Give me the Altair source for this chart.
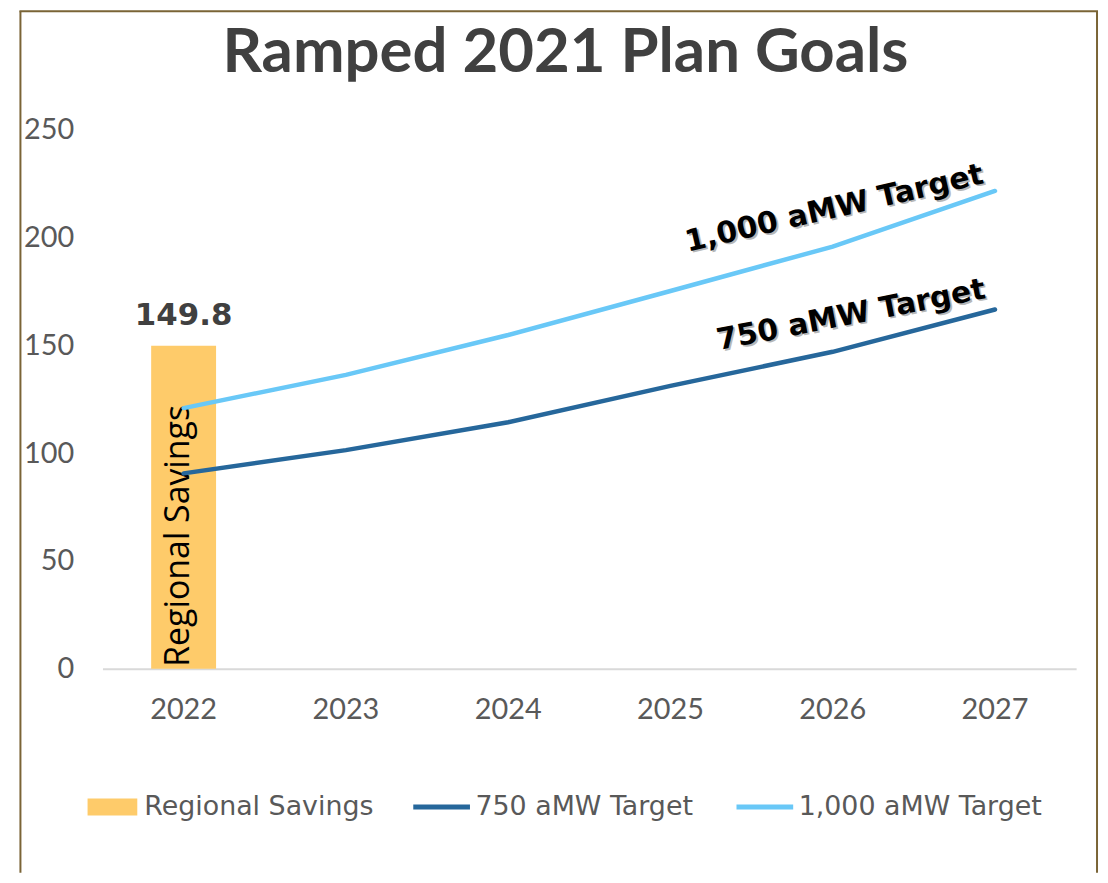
import altair as alt
import pandas as pd

# ---- data ----
years = ["2022", "2023", "2024", "2025", "2026", "2027"]
savings_years = ["2022"]
savings_values = [149.8]
target_750 = [90.6, 101.4, 114.3, 131.2, 147.0, 166.6]
target_1000 = [120.9, 136.3, 154.8, 175.2, 195.8, 221.6]
series_names = ["Regional Savings", "750 aMW Target", "1,000 aMW Target"]
y_ticks = [0, 50, 100, 150, 200, 250]

# ---- layout / style ----
W, H = 979, 542
PAD = {"left": 95, "top": 120, "right": 24, "bottom": 205}
BAR_COLOR = "#FECB6A"
DARK = "#26679B"
LIGHT = "#69C8F7"
FRAME = "#7A6436"
GREY = "#595959"

bar_df = pd.DataFrame({"year": savings_years, "value": savings_values,
                       "series": [series_names[0]] * len(savings_years),
                       "zero": [0] * len(savings_years)})
line_df = pd.DataFrame({
    "year": years + years,
    "value": target_750 + target_1000,
    "series": [series_names[1]] * len(years) + [series_names[2]] * len(years),
})
lab750 = pd.DataFrame({"year": [years[-1]], "value": [target_750[-1]], "label": [series_names[1]]})
lab1000 = pd.DataFrame({"year": [years[-1]], "value": [target_1000[-1]], "label": [series_names[2]]})

x_enc = alt.X("year:N",
              scale=alt.Scale(domain=years, paddingInner=0.6, paddingOuter=0.3),
              axis=alt.Axis(title=None, labelAngle=0, labelFont="Lato", labelFontSize=29,
                            labelColor=GREY, labelPadding=27, ticks=False,
                            domainColor="#D9D9D9", domainWidth=2))


def y_enc(field="value"):
    return alt.Y(f"{field}:Q",
                 scale=alt.Scale(domain=[0, 250], nice=False),
                 axis=alt.Axis(title=None, values=y_ticks, grid=False, domain=False,
                               ticks=False, labelFont="Lato", labelFontSize=29,
                               labelColor=GREY, labelPadding=29))


bars = alt.Chart(bar_df).mark_bar().encode(
    x=x_enc, y=y_enc(),
    fill=alt.Fill("series:N",
                  scale=alt.Scale(domain=[series_names[0]], range=[BAR_COLOR]),
                  legend=alt.Legend(title=None, orient="none", legendX=-15, legendY=656,
                                    direction="horizontal", padding=0,
                                    symbolType="M-1,-0.34L1,-0.34L1,0.34L-1,0.34Z",
                                    symbolSize=2500, symbolStrokeWidth=0, symbolOpacity=1,
                                    labelFont="DejaVu Sans", labelFontSize=27,
                                    labelColor=GREY, labelOffset=7, labelLimit=500)),
)

bar_value = alt.Chart(bar_df).mark_text(
    font="DejaVu Sans", fontWeight="bold", fontSize=31, color="#404040",
    baseline="alphabetic", align="center", dy=-21,
).encode(x=x_enc, y=y_enc(), text=alt.Text("value:Q", format=".1f"))

bar_name = alt.Chart(bar_df).mark_text(
    font="Open Sans", fontSize=34, color="#000000", angle=270,
    align="left", baseline="middle", dx=2, dy=-5,
).encode(x=x_enc, y=y_enc("zero"), text="series:N")

lines = alt.Chart(line_df).mark_line(strokeWidth=4.5, strokeCap="round").encode(
    x=x_enc, y=y_enc(),
    stroke=alt.Stroke("series:N",
                      scale=alt.Scale(domain=series_names[1:], range=[DARK, LIGHT]),
                      legend=alt.Legend(title=None, orient="none", legendX=310, legendY=650,
                                        direction="horizontal", padding=0,
                                        symbolType="stroke", symbolSize=3249,
                                        symbolStrokeWidth=5, columnPadding=33,
                                        labelFont="DejaVu Sans", labelFontSize=27,
                                        labelColor=GREY, labelOffset=3, labelLimit=500)),
    detail="series:N",
)


def line_label(df, angle, dx, dy):
    shadow = alt.Chart(df).mark_text(
        font="DejaVu Sans", fontWeight="bold", fontSize=30, color="#9A9A9A", opacity=0.7,
        angle=angle, align="right", baseline="alphabetic", dx=dx + 1.5, dy=dy + 2,
    ).encode(x=x_enc, y=y_enc(), text="label:N")
    main = alt.Chart(df).mark_text(
        font="DejaVu Sans", fontWeight="bold", fontSize=30, color="#000000",
        angle=angle, align="right", baseline="alphabetic", dx=dx, dy=dy,
    ).encode(x=x_enc, y=y_enc(), text="label:N")
    return shadow + main


frame_df = pd.DataFrame({"k": [1]})
left_x = -82.5
right_x = W + PAD["right"] - 3
top_y = -PAD["top"] + 1
bottom_y = H + PAD["bottom"]
frame = alt.layer(
    alt.Chart(frame_df).mark_rule(color=FRAME, strokeWidth=2).encode(
        x=alt.value(left_x), y=alt.value(top_y), y2=alt.value(bottom_y)),
    alt.Chart(frame_df).mark_rule(color=FRAME, strokeWidth=2).encode(
        x=alt.value(left_x - 1), x2=alt.value(right_x + 1), y=alt.value(top_y)),
    alt.Chart(frame_df).mark_rule(color=FRAME, strokeWidth=2).encode(
        x=alt.value(right_x), y=alt.value(top_y), y2=alt.value(bottom_y)),
)

chart = alt.layer(
    bars, bar_value, bar_name, lines,
    line_label(lab1000, 347, -8, -10),
    line_label(lab750, 349, -6, -13),
    frame,
).properties(
    width=W, height=H,
    padding=PAD,
    background="white",
    autosize=alt.AutoSizeParams(type="none"),
    title=alt.TitleParams("Ramped 2021 Plan Goals", font="Lato", fontSize=62,
                          fontWeight="bold", color="#404040", anchor="middle",
                          dx=-24, offset=-75),
).configure_view(stroke=None)

chart.save("out.html", embed_options={"renderer": "svg", "actions": False})
